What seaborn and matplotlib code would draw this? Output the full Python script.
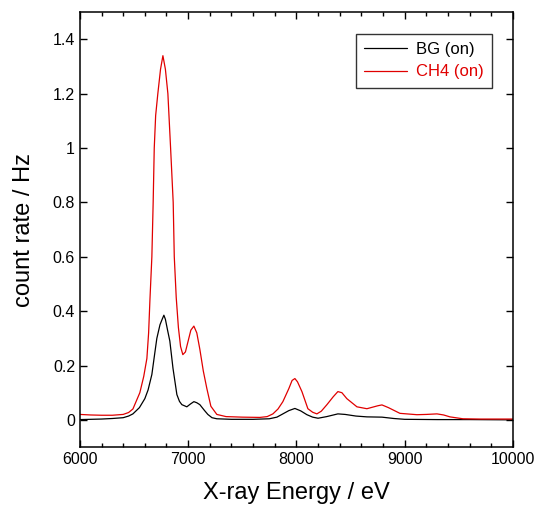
import numpy as np
import pandas as pd
import seaborn as sns
import matplotlib.pyplot as plt
from matplotlib.ticker import MultipleLocator

# BG (on) spectrum
energy_bg = [6000, 6100, 6200, 6300, 6400, 6450, 6490, 6550, 6600, 6630, 6665, 6690,
             6711, 6740, 6760, 6776, 6790, 6810, 6831, 6860, 6896, 6920, 6942, 6988,
             7020, 7053, 7080, 7108, 7150, 7182, 7220, 7265, 7400, 7600, 7750, 7820,
             7875, 7930, 7986, 8040, 8097, 8150, 8200, 8280, 8383, 8450, 8550, 8651,
             8790, 8900, 9000, 9300, 9600, 10000]
rate_bg = [0.001, 0.002, 0.003, 0.005, 0.008, 0.014, 0.022, 0.045, 0.078, 0.11, 0.167, 0.24,
           0.30, 0.35, 0.37, 0.385, 0.37, 0.33, 0.29, 0.19, 0.093, 0.068, 0.056, 0.048,
           0.058, 0.067, 0.063, 0.056, 0.035, 0.02, 0.008, 0.004, 0.002, 0.002, 0.004, 0.01,
           0.022, 0.034, 0.042, 0.033, 0.019, 0.01, 0.006, 0.012, 0.022, 0.02, 0.014, 0.011,
           0.01, 0.005, 0.002, 0.001, 0.001, 0.0]

# CH4 (on) spectrum
energy_ch4 = [6000, 6100, 6200, 6300, 6400, 6450, 6490, 6554, 6590, 6619, 6635, 6647,
              6665, 6677, 6687, 6700, 6720, 6745, 6767, 6790, 6813, 6838, 6862, 6872,
              6890, 6910, 6930, 6951, 6975, 7000, 7025, 7053, 7080, 7108, 7140, 7173,
              7210, 7265, 7350, 7500, 7663, 7730, 7783, 7830, 7875, 7930, 7960, 7986,
              8010, 8051, 8106, 8150, 8189, 8230, 8282, 8340, 8383, 8420, 8466, 8559,
              8651, 8753, 8790, 8850, 8956, 9113, 9200, 9298, 9360, 9418, 9538, 9700,
              10000]
rate_ch4 = [0.02, 0.018, 0.017, 0.017, 0.02, 0.027, 0.04, 0.10, 0.16, 0.226, 0.32, 0.44,
            0.60, 0.80, 1.00, 1.12, 1.20, 1.29, 1.34, 1.29, 1.20, 1.00, 0.80, 0.60,
            0.45, 0.34, 0.27, 0.24, 0.25, 0.29, 0.33, 0.345, 0.32, 0.26, 0.18, 0.115,
            0.05, 0.02, 0.012, 0.01, 0.009, 0.012, 0.022, 0.04, 0.067, 0.115, 0.145, 0.152,
            0.14, 0.104, 0.041, 0.028, 0.022, 0.032, 0.056, 0.085, 0.104, 0.1, 0.078, 0.048,
            0.041, 0.052, 0.055, 0.045, 0.024, 0.019, 0.02, 0.022, 0.018, 0.011, 0.004, 0.003,
            0.003]

df = pd.concat([
    pd.DataFrame({"energy": energy_bg, "rate": rate_bg, "series": "BG (on)"}),
    pd.DataFrame({"energy": energy_ch4, "rate": rate_ch4, "series": "CH4 (on)"}),
])

sns.set_style("ticks")
plt.rcParams['font.family'] = ['Liberation Sans', 'DejaVu Sans']
plt.rcParams['text.color'] = 'black'
plt.rcParams['axes.labelcolor'] = 'black'
plt.rcParams['xtick.color'] = 'black'
plt.rcParams['ytick.color'] = 'black'

fig = plt.figure(figsize=(5.36, 5.08), dpi=100)
ax = fig.add_axes([0.149, 0.120, 0.808, 0.856])

sns.lineplot(data=df, x="energy", y="rate", hue="series",
             palette={"BG (on)": "black", "CH4 (on)": "#e00000"},
             linewidth=0.9, sort=False, ax=ax)

ax.set_xlim(6000, 10000)
ax.set_ylim(-0.1, 1.5)
ax.xaxis.set_major_locator(MultipleLocator(1000))
ax.xaxis.set_minor_locator(MultipleLocator(200))
ax.set_yticks([0, 0.2, 0.4, 0.6, 0.8, 1.0, 1.2, 1.4])
ax.set_yticklabels(["0", "0.2", "0.4", "0.6", "0.8", "1", "1.2", "1.4"])
ax.tick_params(which="both", direction="in", top=True, right=True, labelsize=11.5,
               colors="black")
ax.tick_params(which="major", length=5, width=1)
ax.tick_params(which="minor", length=3, width=1)
for s in ax.spines.values():
    s.set_color("black")
    s.set_linewidth(1.1)

ax.set_xlabel("X-ray Energy / eV", fontsize=17, labelpad=11)
ax.set_ylabel("count rate / Hz", fontsize=17, labelpad=13)

leg = ax.legend(loc="upper right", bbox_to_anchor=(0.97, 0.97), fontsize=12,
                frameon=True, fancybox=False, edgecolor="black", handlelength=2.6,
                handletextpad=0.5, borderpad=0.5, labelspacing=0.45)
leg.get_frame().set_linewidth(1.0)
for t, c in zip(leg.get_texts(), ["black", "#e00000"]):
    t.set_color(c)

fig.savefig("out.png", dpi=100)
